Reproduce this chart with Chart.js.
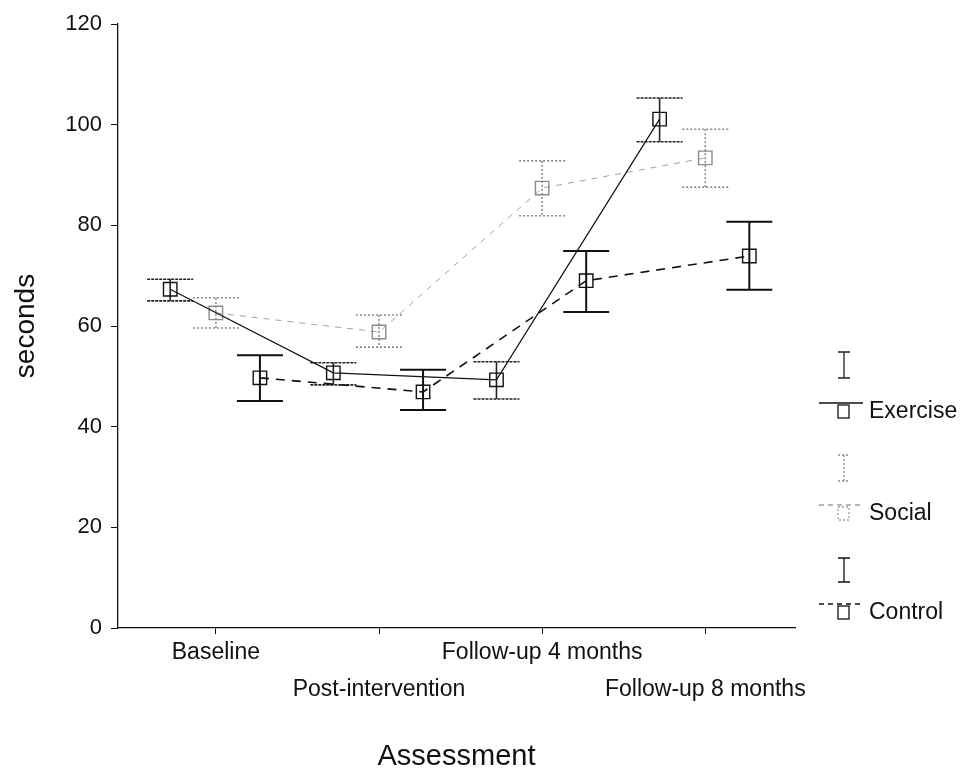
<!DOCTYPE html>
<html lang="en">
<head>
    <meta charset="UTF-8">
    <title>Assessment - seconds</title>
    <script src="https://cdn.jsdelivr.net/npm/chart.js"></script>
    <style>
        body {
            margin: 0;
            background-color: #ffffff;
            font-family: 'Liberation Sans', Arial, sans-serif;
        }
        .chart-box {
            width: 962px;
            height: 778px;
        }
    </style>
</head>
<body>
    <div class="chart-box">
        <canvas id="lineChart"></canvas>
    </div>

    <script>
        // assessment points
        const categories = ['Baseline', 'Post-intervention', 'Follow-up 4 months', 'Follow-up 8 months'];
        const yTicks = [0, 20, 40, 60, 80, 100, 120];

        // mean and error bar ends, seconds
        const exerciseMean = [67.3, 50.7, 49.3, 101.1];
        const exerciseLow  = [65.0, 48.3, 45.5, 96.6];
        const exerciseHigh = [69.3, 52.7, 52.9, 105.3];

        const socialMean = [62.6, 58.8, 87.4, 93.4];
        const socialLow  = [59.6, 55.8, 81.9, 87.6];
        const socialHigh = [65.6, 62.2, 92.8, 99.1];

        const controlMean = [49.7, 46.9, 69.0, 73.9];
        const controlLow  = [45.1, 43.3, 62.8, 67.2];
        const controlHigh = [54.2, 51.3, 74.9, 80.7];

        const FONT = "'Liberation Sans', Arial, sans-serif";

        // groups are shifted a little inside each assessment
        const groups = [
            { name: 'Exercise', mean: exerciseMean, low: exerciseLow, high: exerciseHigh, shift: -0.28,
              line: '#111', dash: [], lineWidth: 1.2, bar: '#222', barDash: [], barWidth: 1.6, capDash: [3, 1] },
            { name: 'Social', mean: socialMean, low: socialLow, high: socialHigh, shift: 0,
              line: '#a0a0a0', dash: [6, 6], lineWidth: 1, bar: '#8a8a8a', barDash: [2, 2], barWidth: 1.6, capDash: [2, 2] },
            { name: 'Control', mean: controlMean, low: controlLow, high: controlHigh, shift: 0.27,
              line: '#111', dash: [9, 7], lineWidth: 1.6, bar: '#111', barDash: [], barWidth: 2, capDash: [] }
        ];

        const toPoints = g => g.mean.map((v, i) => ({ x: i + g.shift, y: v }));

        // error bars + legend drawn with the chart scales
        const errorBars = {
            id: 'errorBars',
            beforeDatasetsDraw(chart) {
                const { ctx, scales: { x, y } } = chart;
                const cap = 23;
                ctx.save();
                groups.forEach(g => {
                    ctx.strokeStyle = g.bar;
                    ctx.lineWidth = g.barWidth;
                    g.mean.forEach((m, i) => {
                        const px = x.getPixelForValue(i + g.shift);
                        const top = y.getPixelForValue(g.high[i]);
                        const bot = y.getPixelForValue(g.low[i]);
                        ctx.setLineDash(g.barDash);
                        ctx.beginPath();
                        ctx.moveTo(px, top);
                        ctx.lineTo(px, bot);
                        ctx.stroke();
                        ctx.setLineDash(g.capDash);
                        ctx.beginPath();
                        ctx.moveTo(px - cap, top);
                        ctx.lineTo(px + cap, top);
                        ctx.moveTo(px - cap, bot);
                        ctx.lineTo(px + cap, bot);
                        ctx.stroke();
                    });
                });
                ctx.restore();
            },
            afterDraw(chart) {
                const ctx = chart.ctx;
                const cx = 844;
                const rows = [[352, 378, 403, 412], [455, 481, 505, 514], [558, 582, 604, 613]];
                ctx.save();
                groups.forEach((g, k) => {
                    const [t, b, ly, ty] = rows[k];
                    ctx.strokeStyle = g.bar;
                    ctx.lineWidth = 1.3;
                    ctx.setLineDash(g.barDash);
                    ctx.beginPath();
                    ctx.moveTo(cx, t); ctx.lineTo(cx, b);
                    ctx.moveTo(cx - 6, t); ctx.lineTo(cx + 6, t);
                    ctx.moveTo(cx - 6, b); ctx.lineTo(cx + 6, b);
                    ctx.stroke();
                    ctx.strokeStyle = g.line;
                    ctx.lineWidth = 1.3;
                    ctx.setLineDash(g.dash.length ? [5, 4] : []);
                    ctx.beginPath();
                    ctx.moveTo(819, ly); ctx.lineTo(863, ly);
                    ctx.stroke();
                    ctx.setLineDash(k === 1 ? [2, 2] : []);
                    ctx.fillStyle = '#fff';
                    ctx.fillRect(cx - 6, ly + 2, 11, 13);
                    ctx.strokeRect(cx - 6, ly + 2, 11, 13);
                    ctx.setLineDash([]);
                    ctx.fillStyle = '#111';
                    ctx.font = '23px ' + FONT;
                    ctx.textBaseline = 'middle';
                    ctx.fillText(g.name, 869, ty);
                });
                ctx.restore();
            }
        };

        const ctx1 = document.getElementById('lineChart').getContext('2d');
        new Chart(ctx1, {
            type: 'line',
            data: {
                datasets: groups.map(g => ({
                    label: g.name,
                    data: toPoints(g),
                    borderColor: g.line,
                    borderWidth: g.lineWidth,
                    borderDash: g.dash,
                    pointStyle: 'rect',
                    pointRadius: 9.5,
                    pointBorderWidth: 1.4,
                    pointBorderColor: g.name === 'Social' ? '#8a8a8a' : '#111',
                    pointBackgroundColor: 'rgba(255,255,255,0)',
                    tension: 0
                }))
            },
            options: {
                responsive: true,
                maintainAspectRatio: false,
                animation: false,
                layout: { padding: { top: 24, right: 167, left: 0, bottom: 0 } },
                plugins: {
                    legend: { display: false },
                    tooltip: { enabled: false }
                },
                scales: {
                    x: {
                        type: 'linear',
                        min: -0.6,
                        max: 3.55,
                        afterFit: s => { s.height = 150; },
                        afterBuildTicks: s => { s.ticks = categories.map((c, i) => ({ value: i })); },
                        grid: { display: true, drawOnChartArea: false, drawTicks: true, tickLength: 6, color: '#111' },
                        border: { color: '#111', width: 1.3 },
                        ticks: {
                            color: '#111',
                            padding: 0,
                            maxRotation: 0,
                            autoSkip: false,
                            font: { size: 23, family: FONT, lineHeight: 1.6 },
                            callback: v => (v % 2 === 1 ? ['', categories[v]] : categories[v])
                        },
                        title: {
                            display: true,
                            text: 'Assessment',
                            color: '#111',
                            padding: { top: 0 },
                            font: { size: 29, family: FONT }
                        }
                    },
                    y: {
                        min: 0,
                        max: 120,
                        afterFit: s => { s.width = 118; },
                        afterBuildTicks: s => { s.ticks = yTicks.map(v => ({ value: v })); },
                        grid: { display: true, drawOnChartArea: false, drawTicks: true, tickLength: 7, color: '#111' },
                        border: { color: '#111', width: 1.3 },
                        ticks: {
                            color: '#111',
                            padding: 9,
                            font: { size: 22, family: FONT }
                        },
                        title: {
                            display: true,
                            text: 'seconds',
                            color: '#111',
                            padding: { top: 9 },
                            font: { size: 28, family: FONT }
                        }
                    }
                }
            },
            plugins: [errorBars]
        });
    </script>
</body>
</html>
